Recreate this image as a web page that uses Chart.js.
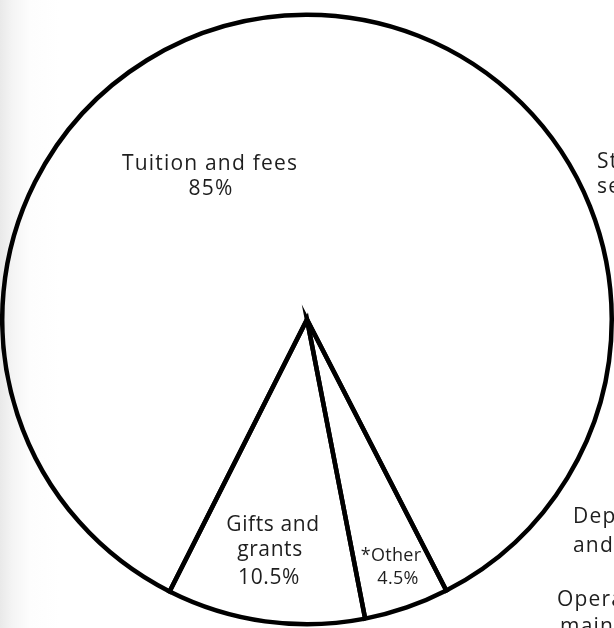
<!DOCTYPE html>
<html>
<head>
<meta charset="utf-8">
<script src="https://cdn.jsdelivr.net/npm/chart.js@4"></script>
<style>
  html, body { margin: 0; padding: 0; }
  body {
    width: 614px; height: 628px; overflow: hidden;
    background: linear-gradient(to right, #e9e9e9 0px, #f4f4f4 12px, #fdfdfd 30px, #ffffff 60px);
  }
  #wrap { position: absolute; left: 0; top: 0; width: 614px; height: 628px; }
</style>
</head>
<body>
<div id="wrap"><canvas id="c"></canvas></div>
<script>
// Data (drawing order, clockwise from the start angle)
const categories = ["Tuition and fees", "Other", "Gifts and grants"];
const percents = [85, 4.5, 10.5];
const labelLines = [["Tuition and fees", "85%"], ["*Other", "4.5%"], ["Gifts and", "grants", "10.5%"]];
// Partially visible labels of the neighbouring chart (cut by the page edge)
const sideLabels = [["Student", "services"], ["Departmental", "and research"], ["Operation and", "maintenance"]];

const FONT = '"Open Sans", "DejaVu Sans", sans-serif';

const textPlugin = {
  id: 'texts',
  afterDraw(chart) {
    const ctx = chart.ctx;
    const arcs = chart.getDatasetMeta(0).data;
    const cx = arcs[0].x, cy = arcs[0].y;
    // label offsets relative to pie centre, font size and letter spacing per label
    const offsets = [
      [[-97, -155], [-96, -130]],
      [[84, 236], [91, 259]],
      [[-34, 206], [-37, 231], [-38, 259]]
    ];
    const sizes = [21, 18, 21];
    const spacing = ['1.2px', '0.3px', '0.6px'];
    ctx.save();
    ctx.fillStyle = '#1e1e1e';
    ctx.textAlign = 'center';
    ctx.textBaseline = 'middle';
    labelLines.forEach((lines, i) => {
      ctx.font = sizes[i] + 'px ' + FONT;
      if ('letterSpacing' in ctx) ctx.letterSpacing = spacing[i];
      lines.forEach((t, j) => {
        ctx.fillText(t, cx + offsets[i][j][0], cy + offsets[i][j][1]);
      });
    });
    // side labels
    ctx.font = '21px ' + FONT;
    if ('letterSpacing' in ctx) ctx.letterSpacing = '1.2px';
    ctx.textAlign = 'left';
    const sidePos = [[[597, 162], [597, 187]], [[573, 517], [573, 546]], [[557, 600], [560, 627]]];
    sideLabels.forEach((lines, i) => {
      lines.forEach((t, j) => ctx.fillText(t, sidePos[i][j][0], sidePos[i][j][1]));
    });
    ctx.restore();
  }
};

new Chart(document.getElementById('c'), {
  type: 'pie',
  data: {
    labels: categories,
    datasets: [{
      data: percents,
      backgroundColor: 'rgba(255,255,255,0)',
      borderColor: '#000',
      borderWidth: 4.5,
      borderJoinStyle: 'miter'
    }]
  },
  options: {
    responsive: true,
    maintainAspectRatio: false,
    animation: false,
    rotation: 206.8,
    layout: { padding: { top: 11, bottom: 0, left: 0, right: 0 } },
    plugins: {
      legend: { display: false },
      tooltip: { enabled: false },
      title: { display: false }
    }
  },
  plugins: [textPlugin]
});
</script>
</body>
</html>
